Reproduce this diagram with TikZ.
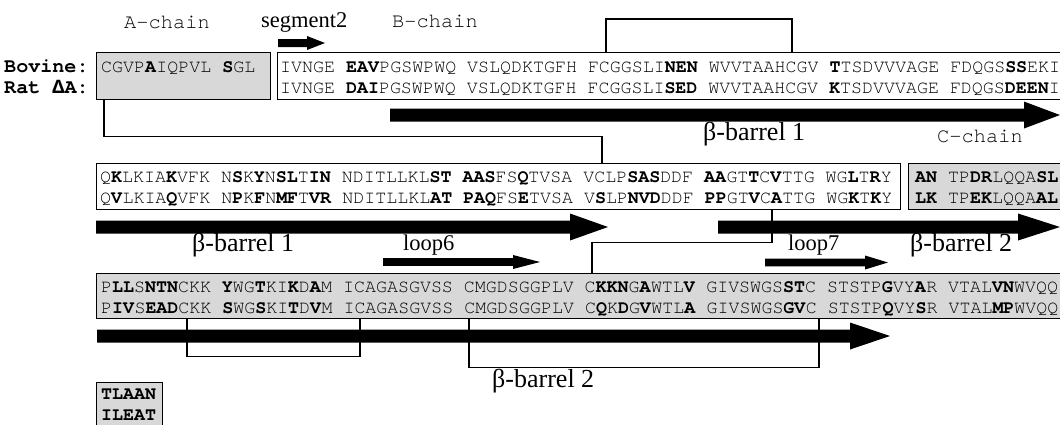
\documentclass[tikz,border=0pt]{standalone}
\usepackage{fontspec}
\setmainfont{Liberation Serif}
\setmonofont{texgyrecursor-regular.otf}[BoldFont=texgyrecursor-bold.otf]
\newfontfamily\deltafont{Liberation Mono}
\usetikzlibrary{calc}
\definecolor{boxgray}{RGB}{216,216,216}
\newcommand\B[1]{\textbf{#1}}
% secondary-structure arrow: x1, x2 (tip), y, shaft half width, head half width, head length
\newcommand\secarrow[6]{\fill[black] (#1,#3-#4) -- (#2-#6,#3-#4) -- (#2-#6,#3-#5) -- (#2,#3) -- (#2-#6,#3+#5) -- (#2-#6,#3+#4) -- (#1,#3+#4) -- cycle;}
\begin{document}
\begin{tikzpicture}[x=1pt,y=-1pt,
  seq/.style={font=\fontsize{18.3}{22}\selectfont\ttfamily, anchor=base west, inner sep=0pt},
  chainlbl/.style={font=\fontsize{20.4}{24}\selectfont\ttfamily, anchor=base west, inner sep=0pt},
  species/.style={font=\fontsize{20.1}{24}\selectfont\ttfamily\bfseries, anchor=base west, inner sep=0pt},
  sslbl/.style={font=\fontsize{22.5}{26}\selectfont, anchor=base west, inner sep=0pt},
  barlbl/.style={font=\fontsize{26}{30}\selectfont, anchor=base west, inner sep=0pt},
  graybox/.style={draw=black, fill=boxgray, line width=1.2pt, rectangle, inner sep=0pt, anchor=north west},
  whitebox/.style={draw=black, fill=white, line width=1.2pt, rectangle, inner sep=0pt, anchor=north west},
  link/.style={draw=black, line width=1.1pt},
]
\useasboundingbox (0,0) rectangle (1060,424);
\clip (0,0) rectangle (1060,424);
\fill[white] (0,0) rectangle (1060,424);

% boxes
\node[graybox, minimum width=174pt, minimum height=47pt] (Abox) at (96,52) {};
\node[whitebox, minimum width=800pt, minimum height=47pt] (Bbox) at (277,52) {};
\node[whitebox, minimum width=804pt, minimum height=46pt] (R2a) at (96,163) {};
\node[graybox, minimum width=170pt, minimum height=46pt] (R2b) at (908,163) {};
\node[graybox, minimum width=980pt, minimum height=45pt] (R3) at (96,273) {};
\node[graybox, minimum width=66pt, minimum height=60pt] (R4) at (96,382) {};

% species labels
\node[species] (bov) at (4,72) {Bovine:};
\node[species] (rat) at (4,93) {Rat {\deltafont\bfseries Δ}A:};

% row 1
\node[seq] (a1) at (101,72) {CGVP\B{A}IQPVL \B{S}GL};
\node[seq] (b1) at (280,72) {IVNGE \B{EAV}PGSWPWQ VSLQDKTGFH FCGGSLI\B{NEN} WVVTAAHCGV \B{T}TSDVVVAGE FDQGS\B{SS}EKI};
\node[seq] (b2) at (280,93) {IVNGE \B{DAI}PGSWPWQ VSLQDKTGFH FCGGSLI\B{SED} WVVTAAHCGV \B{K}TSDVVVAGE FDQGS\B{DEEN}I};

% row 2
\node[seq] (r2a1) at (100,182) {Q\B{K}LKIA\B{K}VFK N\B{S}K\B{Y}N\B{SL}T\B{IN} NDITLLKL\B{ST} \B{AAS}FS\B{Q}TVSA VCLP\B{SAS}DDF \B{AA}GT\B{T}C\B{V}TTG WG\B{L}T\B{R}Y};
\node[seq] (r2a2) at (100,203) {Q\B{V}LKIA\B{Q}VFK N\B{P}K\B{F}N\B{MF}T\B{VR} NDITLLKL\B{AT} \B{PAQ}FS\B{E}TVSA V\B{S}LP\B{NVD}DDF \B{PP}GT\B{V}C\B{A}TTG WG\B{K}T\B{K}Y};
\node[seq] (r2b1) at (915,182) {\B{AN} TP\B{DR}LQQA\B{SL}};
\node[seq] (r2b2) at (915,203) {\B{LK} TP\B{EK}LQQA\B{AL}};

% row 3
\node[seq] (r31) at (101,292) {P\B{LL}S\B{NTN}CKK \B{Y}WG\B{T}KI\B{K}D\B{A}M ICAGASGVSS CMGDSGGPLV C\B{KKN}G\B{A}WTL\B{V} GIVSWGS\B{ST}C STSTP\B{G}VY\B{A}R VTAL\B{VN}WVQQ};
\node[seq] (r32) at (101,313) {P\B{IV}S\B{EAD}CKK \B{S}WG\B{S}KI\B{T}D\B{V}M ICAGASGVSS CMGDSGGPLV C\B{Q}K\B{D}G\B{V}WTL\B{A} GIVSWGS\B{GV}C STSTP\B{Q}VY\B{S}R VTAL\B{MP}WVQQ};

% row 4
\node[seq] (r41) at (101,399) {\B{TLAAN}};
\node[seq] (r42) at (101,420) {\B{ILEAT}};

% connectors (chain links and disulfide brackets)
\draw[link] ([xshift=8pt]Abox.south west) -- ++(0,36) -| ([xshift=506pt]R2a.north west);
\draw[link] ([xshift=329pt]Bbox.north west) -- ++(0,-33) -| ([xshift=515pt]Bbox.north west);
\draw[link] ([xshift=676pt]R2a.south west) -- ++(0,32) -| ([xshift=496pt]R3.north west);
\draw[link] ([xshift=91pt]R3.south west) -- ++(0,37) -| ([xshift=264pt]R3.south west);
\draw[link] ([xshift=373pt]R3.south west) -- ++(0,48) -| ([xshift=723pt]R3.south west);

% secondary structure arrows
\secarrow{390}{1060}{115}{6.5}{13.5}{36}
\secarrow{278}{325}{43}{4}{7}{18}
\secarrow{96}{608}{227}{6.5}{13.5}{38}
\secarrow{718}{1060}{227}{6.5}{13.5}{42}
\secarrow{383}{540}{262}{3.8}{7}{27}
\secarrow{765}{888}{262.5}{3.8}{7}{23}
\secarrow{97}{890}{336}{6.5}{13.5}{40}

% labels
\node[chainlbl] (lA) at (124,28) {A-chain};
\node[sslbl] (lseg) at (261,27) {segment2};
\node[chainlbl] (lB) at (392,27) {B-chain};
\node[barlbl] (lbb1a) at (703,140) {β-barrel 1};
\node[chainlbl] (lC) at (937,142) {C-chain};
\node[barlbl] (lbb1b) at (192,251) {β-barrel 1};
\node[sslbl] (lloop6) at (403,250) {loop6};
\node[sslbl] (lloop7) at (788,250) {loop7};
\node[barlbl] (lbb2a) at (910,251) {β-barrel 2};
\node[barlbl] (lbb2b) at (492,387) {β-barrel 2};
\end{tikzpicture}
\end{document}
